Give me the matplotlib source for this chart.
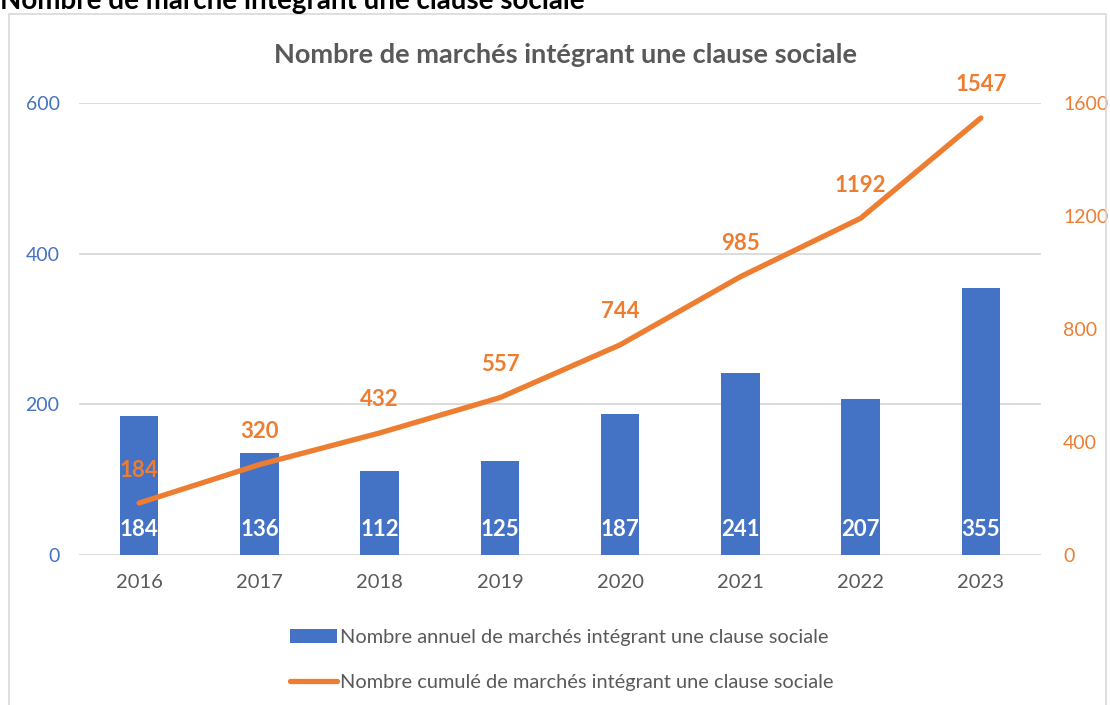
import matplotlib.pyplot as plt
from matplotlib.patches import Patch, Rectangle
from matplotlib.lines import Line2D

plt.rcParams['font.family'] = ['Lato', 'DejaVu Sans']

years = ['2016', '2017', '2018', '2019', '2020', '2021', '2022', '2023']
annual = [184, 136, 112, 125, 187, 241, 207, 355]
cumul = [184, 320, 432, 557, 744, 985, 1192, 1547]

blue = '#4472C4'
orange = '#ED7D31'
grey = '#595959'

fig = plt.figure(figsize=(11.1, 7.05), dpi=100)

# outer frame of the chart
fig.patches.append(Rectangle((9 / 1110, -0.1), (1106 - 9) / 1110, (705 - 14) / 705 + 0.1,
                             transform=fig.transFigure, fill=False,
                             edgecolor='#D9D9D9', linewidth=1.2))

fig.text(0.0, 1 - 9 / 705, 'Nombre de marché intégrant une clause sociale', ha='left',
         va='baseline', fontsize=20, fontweight='bold', color='black')

ax = fig.add_axes([79 / 1110, 150 / 705, (1041 - 79) / 1110, (555 - 103) / 705])
ax2 = ax.twinx()

x = range(len(years))
ax.bar(x, annual, width=0.32, color=blue, zorder=2)
ax2.plot(x, cumul, color=orange, linewidth=3.8, solid_capstyle='round', zorder=3)

ax.set_xlim(-0.5, len(years) - 0.5)
ax.set_ylim(0, 600)
ax2.set_ylim(0, 1600)
ax.set_yticks([0, 200, 400, 600])
ax2.set_yticks([0, 400, 800, 1200, 1600])
ax.set_xticks(list(x))
ax.set_xticklabels(years)

ax.yaxis.grid(True, color='#D9D9D9', linewidth=1.3, zorder=0)
ax.set_axisbelow(True)
for a in (ax, ax2):
    for s in a.spines.values():
        s.set_visible(False)
    a.tick_params(length=0)
ax.tick_params(axis='y', colors=blue, labelsize=14, pad=14)
ax.tick_params(axis='x', colors=grey, labelsize=14.5, pad=14)
ax2.tick_params(axis='y', colors=orange, labelsize=14, pad=16)

for i, v in enumerate(annual):
    ax.annotate(str(v), (i, 0), xytext=(0, 25), textcoords='offset pixels',
                ha='center', va='center', color='white', fontsize=16, fontweight='bold')
for i, v in enumerate(cumul):
    ax2.annotate(str(v), (i, v), xytext=(0, 33), textcoords='offset pixels',
                 ha='center', va='center', color=orange, fontsize=16, fontweight='bold')

fig.text(565 / 1110, 1 - 63 / 705, 'Nombre de marchés intégrant une clause sociale',
         ha='center', va='baseline', fontsize=19.5, fontweight='bold', color=grey)

handles = [Patch(facecolor=blue),
           Line2D([0], [0], color=orange, linewidth=3.8, solid_capstyle='round')]
labels = ['Nombre annuel de marchés intégrant une clause sociale',
          'Nombre cumulé de marchés intégrant une clause sociale']
fig.legend(handles, labels, loc='upper left', bbox_to_anchor=(290 / 1110, 1 - 629 / 705),
           frameon=False, fontsize=14.4, labelcolor=grey, handlelength=2.35,
           handleheight=0.7, handletextpad=0.15, labelspacing=1.42, borderpad=0,
           borderaxespad=0)

fig.savefig('out.png', dpi=100)
